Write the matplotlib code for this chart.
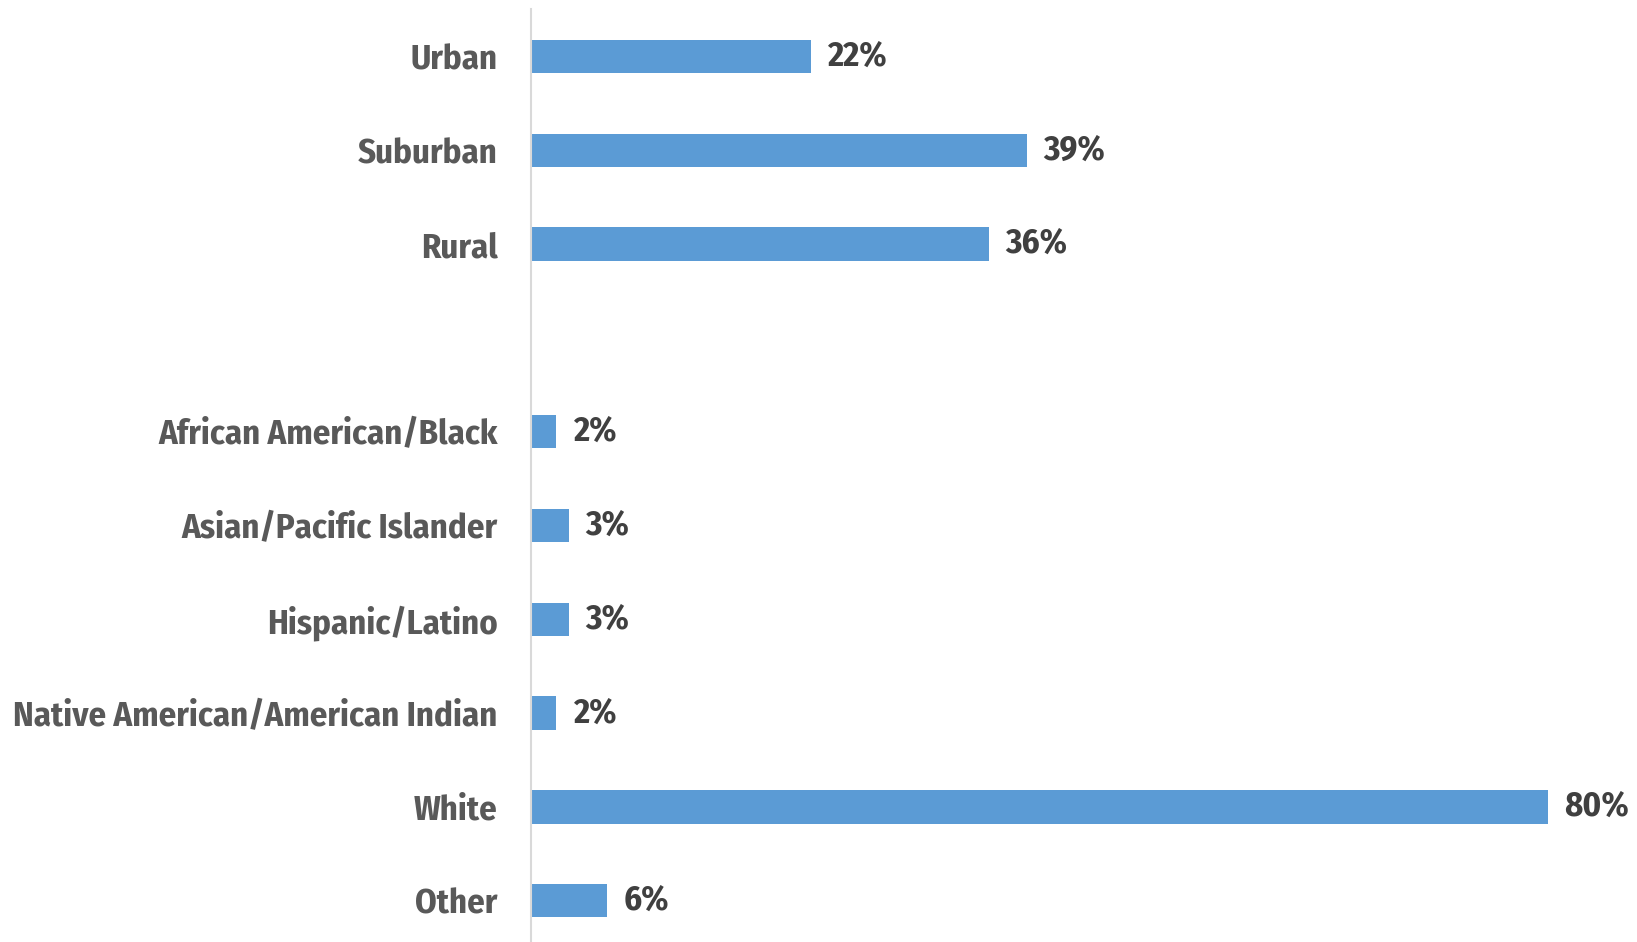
import matplotlib
matplotlib.use("Agg")
import matplotlib.pyplot as plt
from matplotlib import font_manager as fm

# community type and race/ethnicity shares (%)
area_labels = ["Urban", "Suburban", "Rural"]
area_values = [22, 39, 36]
race_labels = ["African American/Black", "Asian/Pacific Islander", "Hispanic/Latino",
               "Native American/American Indian", "White", "Other"]
race_values = [2, 3, 3, 2, 80, 6]

BAR = "#5B9BD5"
LABEL = "#595959"
VALUE = "#404040"

# narrow bold face for all text, first one found wins
names = {f.name for f in fm.fontManager.ttflist}
family = next((n for n in ["Liberation Sans Narrow", "Fira Sans Condensed", "DejaVu Sans"]
               if n in names), "DejaVu Sans")
FONT = [family, "DejaVu Sans"]

labels = area_labels + race_labels
values = area_values + race_values
# one empty slot between the two groups
pos = list(range(len(area_labels))) + [len(area_labels) + 1 + i for i in range(len(race_labels))]
nslots = len(area_labels) + 1 + len(race_labels)

fig = plt.figure(figsize=(16.37, 9.42), dpi=100)

# size the font so the longest category name spans ~485 px
longest = max(labels, key=len)
probe = fig.text(0, 0, longest, family=FONT, stretch="condensed", weight="bold", size=28)
w = probe.get_window_extent(fig.canvas.get_renderer()).width
probe.remove()
FS = min(28, 28 * 485 / w)
FP = dict(family=FONT, stretch="condensed", weight="bold", size=FS)

ax = fig.add_axes([0.3244, -0.006, 0.66, 0.996])

ax.barh(pos, values, height=0.355, color=BAR)
for p, v in zip(pos, values):
    ax.text(v + 1.3, p, f"{v}%", va="center", ha="left", color=VALUE, **FP)

ax.set_ylim(nslots - 0.5, -0.5)
ax.set_xlim(0, 85)
ax.set_yticks(pos)
ax.set_yticklabels(labels, color=LABEL, **FP)
ax.tick_params(axis="y", length=0, pad=24)
ax.set_xticks([])
for s in ["top", "right", "bottom"]:
    ax.spines[s].set_visible(False)
ax.spines["left"].set_color("#D9D9D9")
ax.spines["left"].set_linewidth(1.5)

fig.savefig("out.png", dpi=100)
